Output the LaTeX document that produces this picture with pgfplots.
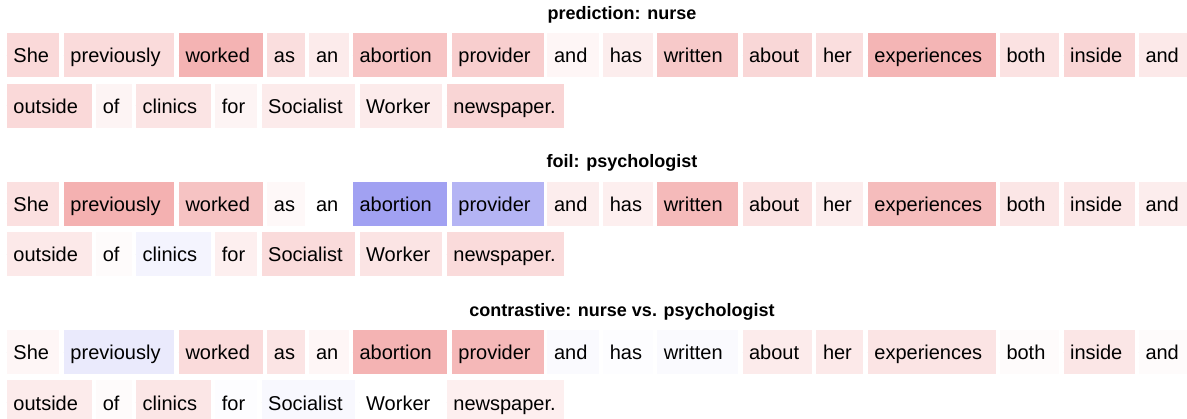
\documentclass[border=0pt]{standalone}
\usepackage{fontspec}
\setmainfont{Liberation Sans}
\usepackage{pgfplots}
\usepackage{pgfplotstable}
\pgfplotsset{compat=1.18}

\pgfplotstableread{
x w r word vp vf vc
6.7 52.3 0 She 0.17 0.14 0.04
63.7 110.4 0 previously 0.16 0.35 -0.12
178.7 83.8 0 worked 0.34 0.27 0.16
267.1 37.9 0 as 0.15 0.03 0.12
309.2 39.1 0 an 0.09 0.00 0.04
352.8 93.8 0 abortion 0.26 -0.53 0.34
451.6 91.7 0 provider 0.22 -0.42 0.32
547.3 51.4 0 and 0.04 0.08 -0.03
603.0 49.7 0 has 0.08 0.07 -0.01
657.0 80.8 0 written 0.24 0.31 -0.03
742.3 69.3 0 about 0.18 0.13 0.09
816.2 46.5 0 her 0.15 0.08 0.10
867.6 127.7 0 experiences 0.33 0.30 0.12
999.7 59.3 0 both 0.13 0.11 0.02
1063.3 71.0 0 inside 0.19 0.11 0.11
1138.7 51.4 0 and 0.10 0.08 0.02
6.7 85.0 1 outside 0.17 0.10 0.09
96.0 35.7 1 of 0.05 0.02 0.02
135.9 74.6 1 clinics 0.12 -0.06 0.11
215.1 41.3 1 for 0.05 0.07 -0.01
261.4 93.7 1 Socialist 0.09 0.16 -0.04
359.4 82.6 1 Worker 0.09 0.12 0.00
446.6 117.5 1 newspaper. 0.19 0.16 0.07
}\words

\pgfplotsset{
  colorby/.style={
    visualization depends on={ifthenelse(\thisrow{#1}>0,255-32*\thisrow{#1},255+178*\thisrow{#1}) \as \cR},
    visualization depends on={ifthenelse(\thisrow{#1}>0,255-223*\thisrow{#1},255+178*\thisrow{#1}) \as \cG},
    visualization depends on={ifthenelse(\thisrow{#1}>0,255-223*\thisrow{#1},255+25*\thisrow{#1}) \as \cB},
  }
}

\begin{document}
\begin{tikzpicture}
\begin{axis}[
  width=1187bp, height=419bp, scale only axis,
  xmin=0, xmax=1187, ymin=0, ymax=419, y dir=reverse,
  hide axis, clip=false,
  every axis plot/.append style={
    only marks, mark=*, mark size=0pt, mark options={draw=none, fill=none},
    point meta=explicit symbolic,
    visualization depends on={\thisrow{w}-13.2 \as \tw},
    nodes near coords,
    every node near coord/.append style={
      anchor=west, fill={rgb,255:red,\cR;green,\cG;blue,\cB}, draw=none, text=black,
      inner xsep=6.6bp, inner ysep=0pt, minimum height=44bp,
      text height=15.4bp, text depth=0pt, text width=\tw bp, align=left,
      font={\fontsize{20bp}{24bp}\selectfont}
    }
  }
]
\addplot[colorby=vp] table[x=x, y expr={55.3+50.2*\thisrow{r}}, meta=word] {\words};
\addplot[colorby=vf] table[x=x, y expr={203.7+50.3*\thisrow{r}}, meta=word] {\words};
\addplot[colorby=vc] table[x=x, y expr={352.1+50.2*\thisrow{r}}, meta=word] {\words};
\node[anchor=base, font={\bfseries\fontsize{18bp}{22bp}\selectfont}] at (axis cs:622,19.3) {prediction: nurse};
\node[anchor=base, font={\bfseries\fontsize{18bp}{22bp}\selectfont}] at (axis cs:622,167.7) {foil: psychologist};
\node[anchor=base, font={\bfseries\fontsize{18bp}{22bp}\selectfont}] at (axis cs:622,316.1) {contrastive: nurse vs. psychologist};
\end{axis}
\pgfresetboundingbox
\path[use as bounding box] (0,0) rectangle (1187bp,419bp);
\end{tikzpicture}
\end{document}
